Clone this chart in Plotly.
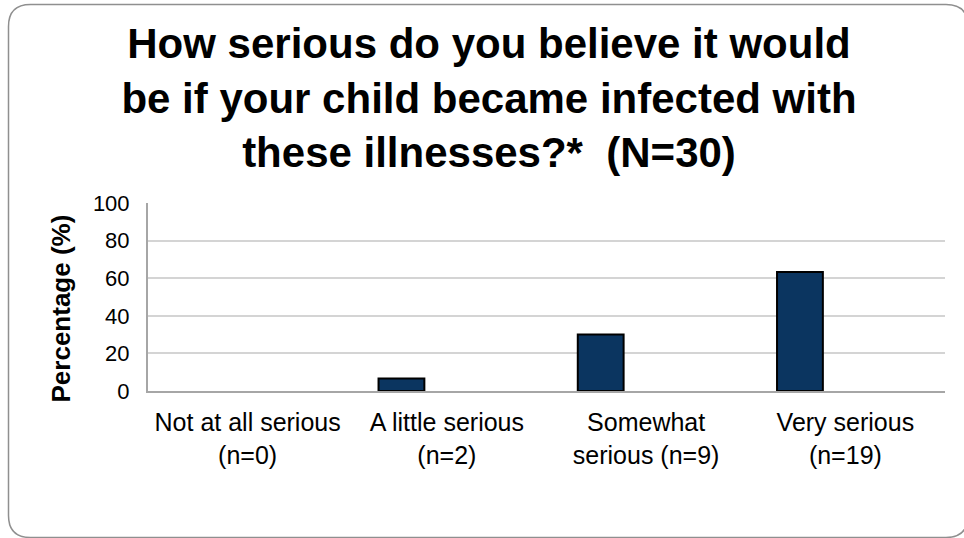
import plotly.graph_objects as go

# Survey responses (N=30)
categories = ["Not at all serious", "A little serious", "Somewhat serious", "Very serious"]
tick_labels = [
    "Not at all serious<br>(n=0)",
    "A little serious<br>(n=2)",
    "Somewhat<br>serious (n=9)",
    "Very serious<br>(n=19)",
]
counts = [0, 2, 9, 19]
total_n = 30
percentages = [c / total_n * 100 for c in counts]

W, H = 964, 538


def px(x):
    return x / W


def py(y):
    return 1 - y / H


# no outline on empty bars
outline_widths = [2 if p > 0 else 0 for p in percentages]

fig = go.Figure()
fig.add_trace(
    go.Bar(
        x=categories,
        y=percentages,
        width=0.23,
        offset=-0.343,
        marker=dict(color="#0B3560", line=dict(color="#000000", width=outline_widths)),
        hoverinfo="x+y",
    )
)

# rounded frame around the chart
x0, y0, x1, y1, r = 8.5, 4.5, 968, 537.5, 22
frame = (
    f"M {px(x0 + r)},{py(y0)} L {px(x1 - r)},{py(y0)} "
    f"Q {px(x1)},{py(y0)} {px(x1)},{py(y0 + r)} "
    f"L {px(x1)},{py(y1 - r)} Q {px(x1)},{py(y1)} {px(x1 - r)},{py(y1)} "
    f"L {px(x0 + r)},{py(y1)} Q {px(x0)},{py(y1)} {px(x0)},{py(y1 - r)} "
    f"L {px(x0)},{py(y0 + r)} Q {px(x0)},{py(y0)} {px(x0 + r)},{py(y0)} Z"
)

fig.update_layout(
    width=W,
    height=H,
    margin=dict(l=0, r=0, t=0, b=0, autoexpand=False),
    paper_bgcolor="white",
    plot_bgcolor="white",
    showlegend=False,
    font=dict(family="Liberation Sans, Arial, sans-serif", color="#000000"),
    title=dict(
        text="How serious do you believe it would<br>be if your child became infected with<br>these illnesses?*  (N=30)",
        font=dict(size=42, family="Liberation Sans, Arial, sans-serif", weight="bold", color="#000000"),
        x=px(489),
        xanchor="center",
        xref="paper",
        y=py(58),
        yanchor="middle",
        yref="paper",
        automargin=False,
    ),
    xaxis=dict(
        domain=[px(148), px(945)],
        type="category",
        categoryorder="array",
        categoryarray=categories,
        range=[-0.5, 3.5],
        tickmode="array",
        tickvals=categories,
        ticktext=tick_labels,
        tickfont=dict(size=25),
        ticks="",
        ticklabelstandoff=8,
        showline=True,
        linecolor="#A6A6A6",
        linewidth=2,
        showgrid=False,
        automargin=False,
        fixedrange=True,
    ),
    yaxis=dict(
        domain=[py(391), py(203)],
        range=[0, 100],
        tickmode="array",
        tickvals=[0, 20, 40, 60, 80, 100],
        tickfont=dict(size=22),
        ticks="",
        ticklabelstandoff=12,
        showline=True,
        linecolor="#A6A6A6",
        linewidth=2,
        showgrid=True,
        gridcolor="#D4D4D4",
        gridwidth=1.5,
        zeroline=False,
        automargin=False,
        fixedrange=True,
    ),
    shapes=[
        dict(type="path", xref="paper", yref="paper", path=frame,
             line=dict(color="#8F8F8F", width=1.5), layer="below"),
    ],
    annotations=[
        dict(
            text="<b>Percentage (%)</b>",
            textangle=-90,
            x=px(60), y=py(308.5), xref="paper", yref="paper",
            xanchor="center", yanchor="middle",
            showarrow=False,
            font=dict(size=26, color="#000000"),
        )
    ],
)

fig.write_html("out.html")
